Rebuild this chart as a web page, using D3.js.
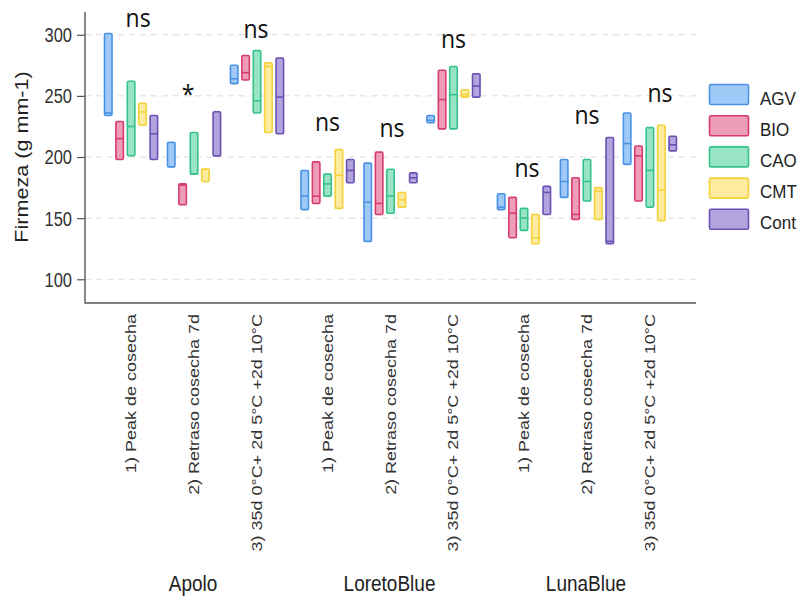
<!DOCTYPE html>
<html>
<head>
<meta charset="utf-8">
<script src="https://cdn.jsdelivr.net/npm/d3@7"></script>
<style>
  html, body { margin: 0; padding: 0; background: #fff; }
  svg { display: block; }
</style>
</head>
<body>
<svg id="chart" width="798" height="596"></svg>
<script>
// ---------------- DATA ----------------
const facets = ["Apolo", "LoretoBlue", "LunaBlue"];
const conditions = ["1) Peak de cosecha", "2) Retraso cosecha 7d", "3) 35d 0°C+ 2d 5°C +2d 10°C"];
const treatments = ["AGV", "BIO", "CAO", "CMT", "Cont"];
const yTicks = [100, 150, 200, 250, 300];

// values per treatment, in order: Apolo(P,R,S), LoretoBlue(P,R,S), LunaBlue(P,R,S)
const minVals = {
  AGV:  [234, 192, 260, 157, 131, 228, 157, 167, 194],
  BIO:  [198, 161, 263, 162, 153, 223, 134, 149, 164],
  CAO:  [201, 186, 236, 168, 154, 223, 140, 164, 159],
  CMT:  [226, 180, 220, 158, 159, 249, 129, 149, 148],
  Cont: [198, 201, 219, 179, 179, 249, 153, 129, 205]
};
const medVals = {
  AGV:  [236, 192, 264, 168, 163, 230, 159, 180, 211],
  BIO:  [215, 177, 269, 168, 162, 247, 154, 153, 201],
  CAO:  [225, 186, 246, 178, 168, 251, 150, 180, 189],
  CMT:  [237, 190, 274, 185, 165, 251, 134, 172, 173],
  Cont: [219, 201, 249, 189, 183, 258, 171, 131, 210]
};
const maxVals = {
  AGV:  [301, 212, 275, 189, 195, 234, 170, 198, 236],
  BIO:  [229, 178, 283, 196, 204, 271, 167, 183, 209],
  CAO:  [262, 220, 287, 186, 190, 274, 158, 198, 224],
  CMT:  [244, 190, 277, 206, 171, 255, 153, 175, 226],
  Cont: [234, 237, 281, 198, 187, 268, 176, 216, 217]
};
// significance annotations (one per facet x condition), anchored in data units
const sigLabels = ["ns", "*", "ns", "ns", "ns", "ns", "ns", "ns", "ns"];
const sigY      = [306.5, 244, 297, 221, 216, 289, 184, 227, 245];

// ---------------- STYLE ----------------
const strokeCol = { AGV: "#4a92e4", BIO: "#d63c6f", CAO: "#36c28b", CMT: "#f4d23a", Cont: "#6a51b2" };
const fillCol   = { AGV: "#8ec1f6", BIO: "#ea8cac", CAO: "#86dfbb", CMT: "#fde88e", Cont: "#a594d8" };
const sigDx = [7, -6, -1, 0, 1.5, 0, 3, 0, 10];
const FONT = "'Liberation Sans', Arial, Helvetica, sans-serif";

const svg = d3.select("#chart");
const plot = { left: 85, right: 696, top: 12, bottom: 303 };

// ---------------- SCALES ----------------
const xFacet = d3.scaleBand().domain(facets).range([plot.left, plot.right]).paddingInner(0).paddingOuter(0.055);
const xCond = d3.scaleBand().domain(conditions).range([0, xFacet.bandwidth()]).paddingInner(0).paddingOuter(0.06);
const xTreat = d3.scaleBand().domain(treatments).range([-28.5, 28.5]);
const y = d3.scaleLinear().domain([80.6, 318.6]).range([plot.bottom, plot.top]);

const condCenter = (f, c) => xFacet(f) + xCond(c) + xCond.bandwidth() / 2;

function stretchedText(g, x, yy, str, opt) {
  const s = opt.sy || 1.2;
  const t = g.append("text")
    .attr("transform", `translate(${x},${yy}) scale(1,${s})` + (opt.rotate ? " rotate(-90)" : ""))
    .attr("font-family", opt.family || FONT)
    .attr("font-size", opt.size)
    .attr("fill", opt.fill || "#222")
    .attr("text-anchor", opt.anchor || "start")
    .text(str);
  if (opt.dy) t.attr("dy", opt.dy);
  return t;
}

// ---------------- GRID ----------------
const grid = svg.append("g");
yTicks.forEach(v => {
  grid.append("line")
    .attr("x1", plot.left).attr("x2", plot.right)
    .attr("y1", y(v)).attr("y2", y(v))
    .attr("stroke", "#dcdcdc").attr("stroke-width", 1)
    .attr("stroke-dasharray", "6,5");
});

// ---------------- AXES ----------------
const yAxis = d3.axisLeft(y).tickValues(yTicks).tickSize(8).tickFormat("");
const gy = svg.append("g").attr("transform", `translate(${plot.left},0)`).call(yAxis);
gy.select(".domain").remove();
gy.selectAll(".tick line").attr("stroke", "#555").attr("stroke-width", 1.2);
const labelsG = svg.append("g");
yTicks.forEach(v => {
  stretchedText(labelsG, 72, y(v), String(v), { size: 16.5, anchor: "end", dy: "0.36em", sy: 1.25, fill: "#333" });
});
svg.append("line").attr("x1", plot.left).attr("x2", plot.left)
  .attr("y1", plot.top).attr("y2", plot.bottom + 0.6)
  .attr("stroke", "#555").attr("stroke-width", 1.4);
svg.append("line").attr("x1", plot.left).attr("x2", plot.right)
  .attr("y1", plot.bottom).attr("y2", plot.bottom)
  .attr("stroke", "#555").attr("stroke-width", 1.4);

// y title
stretchedText(labelsG, 28, 157, "Firmeza (g mm-1)", { size: 18, anchor: "middle", rotate: true, sy: 1.2, fill: "#222" });

// category labels
facets.forEach(f => {
  conditions.forEach(c => {
    stretchedText(labelsG, condCenter(f, c) + 5, 314, c, { size: 15, anchor: "end", rotate: true, sy: 1.2, fill: "#333" });
  });
  stretchedText(labelsG, condCenter(f, conditions[1]) - 1, 591, f, { size: 19, anchor: "middle", sy: 1.15, fill: "#222" });
});

// ---------------- BOXES ----------------
const boxW = 7.5;
const boxes = svg.append("g");
facets.forEach((f, fi) => {
  conditions.forEach((c, ci) => {
    const k = fi * 3 + ci;
    treatments.forEach(t => {
      const cx = condCenter(f, c) + xTreat(t) + xTreat.bandwidth() / 2;
      const lo = minVals[t][k], md = medVals[t][k], hi = maxVals[t][k];
      boxes.append("rect")
        .attr("x", cx - boxW / 2).attr("width", boxW)
        .attr("y", y(hi)).attr("height", y(lo) - y(hi))
        .attr("rx", 1.2)
        .attr("fill", fillCol[t]).attr("fill-opacity", 0.85)
        .attr("stroke", strokeCol[t]).attr("stroke-width", 1.6);
      boxes.append("line")
        .attr("x1", cx - boxW / 2).attr("x2", cx + boxW / 2)
        .attr("y1", y(md)).attr("y2", y(md))
        .attr("stroke", strokeCol[t]).attr("stroke-width", 1.6);
    });
  });
});

// ---------------- SIGNIFICANCE ----------------
const sigG = svg.append("g");
facets.forEach((f, fi) => {
  conditions.forEach((c, ci) => {
    const k = fi * 3 + ci;
    stretchedText(sigG, condCenter(f, c) + sigDx[k], y(sigY[k]), sigLabels[k],
      { size: 23, anchor: "middle", sy: 1.1, fill: "#111", family: "'Open Sans', 'Noto Sans', sans-serif" });
  });
});

// ---------------- LEGEND ----------------
const leg = svg.append("g");
treatments.forEach((t, i) => {
  const cy = 94.5 + i * 31.2;
  leg.append("rect")
    .attr("x", 709.5).attr("y", cy - 10).attr("width", 39).attr("height", 20).attr("rx", 1.5)
    .attr("fill", fillCol[t]).attr("fill-opacity", 0.85)
    .attr("stroke", strokeCol[t]).attr("stroke-width", 1.6);
  stretchedText(leg, 760, cy + 10, t, { size: 17, anchor: "start", sy: 1.1, fill: "#222" });
});
</script>
</body>
</html>
